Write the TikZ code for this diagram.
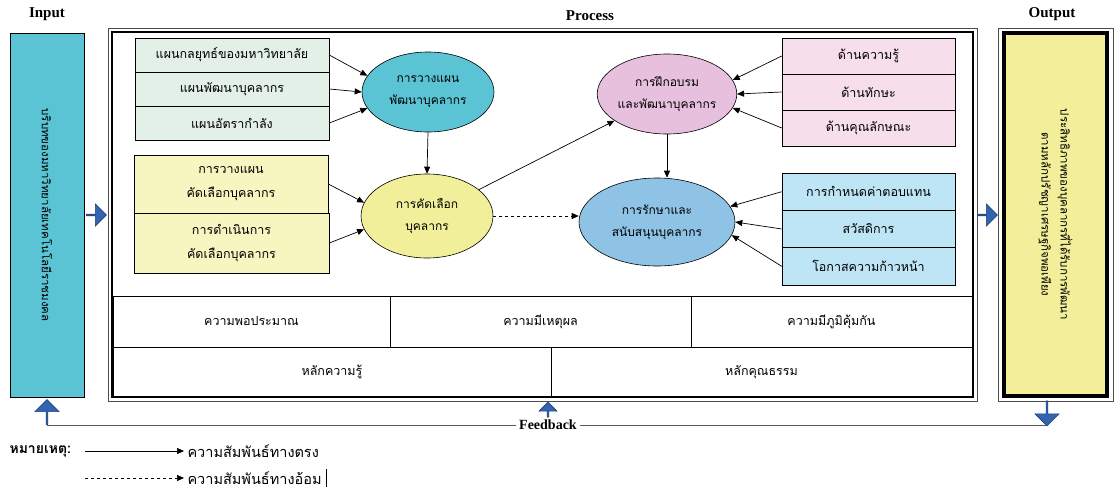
\documentclass[tikz,border=0pt]{standalone}
\usepackage{fontspec}
\setmainfont{Liberation Serif}
\newfontfamily\thai[Script=Thai]{Loma}
\usetikzlibrary{arrows.meta,shapes.geometric,shapes.arrows}
\definecolor{incyan}{HTML}{5BC4D4}
\definecolor{greenbox}{HTML}{E3F0E8}
\definecolor{yellowbox}{HTML}{F7F5C0}
\definecolor{yellowell}{HTML}{F2EF9A}
\definecolor{pinkell}{HTML}{E6C0DD}
\definecolor{pinkbox}{HTML}{F7DEEB}
\definecolor{blueell}{HTML}{8EC3E6}
\definecolor{bluebox}{HTML}{BEE5F5}
\definecolor{outyellow}{HTML}{F2EE99}
\definecolor{arrowblue}{HTML}{3463B0}
\definecolor{arrowedge}{HTML}{1F3F7A}
\begin{document}
\begin{tikzpicture}[x=1pt,y=-1pt,
  thaitext/.style={font=\thai\fontsize{12.5}{24}\selectfont},
  celltext/.style={font=\thai\fontsize{12.5}{14}\selectfont},
  elltext/.style={font=\thai\fontsize{12}{22}\selectfont},
  rottext/.style={font=\thai\fontsize{11.5}{19}\selectfont},
  legtext/.style={font=\thai\fontsize{14.5}{16}\selectfont},
  cell/.style={draw=black, line width=0.6pt, rectangle, inner sep=0pt, align=center, thaitext},
  ell/.style={ellipse, draw=black, line width=0.6pt, inner sep=0pt, align=center, elltext},
  rel/.style={-{Triangle[length=7pt,width=6pt]}, line width=0.7pt},
  blockarrow/.style={single arrow, fill=arrowblue, draw=arrowedge, line width=0.6pt, inner sep=0pt, single arrow head extend=4pt},
  lbl/.style={font=\bfseries\fontsize{15}{17}\selectfont}]
\useasboundingbox[fill=white] (0,0) rectangle (1117,490);

% titles
\node[lbl] (tin) at (47,14) {Input};
\node[lbl] (tproc) at (590,16) {Process};
\node[lbl] (tout) at (1052,14) {Output};

% input box
\node[draw=black, line width=0.6pt, fill=incyan, minimum width=74pt, minimum height=364pt, inner sep=0pt] (inbox) at (47,215) {};
\node[rottext, rotate=-90] (intext) at (inbox.center) {บริบทของมหาวิทยาลัยเทคโนโลยีราชมงคล};

% process frame
\draw[line width=0.9pt, black!70] (108,28) rectangle (977,401);
\draw[line width=1.5pt] (112,32) rectangle (973,397);

% output box
\draw[line width=0.9pt, black!70] (998,28) rectangle (1113,401);
\node[draw=black, line width=3.5pt, fill=outyellow, minimum width=103pt, minimum height=363pt, inner sep=0pt] (outbox) at (1055.5,214.5) {};
\node[rottext, rotate=-90, align=center] (outtext) at (outbox.center) {ประสิทธิภาพของบุคลากรที่ได้รับการพัฒนา\\ตามหลักปรัชญาเศรษฐกิจพอเพียง};

% block arrows
\node[blockarrow, minimum height=20pt, minimum width=22pt] (a_in) at (96,215) {};
\node[blockarrow, minimum height=20pt, minimum width=22pt] (a_out) at (987,215) {};
\node[blockarrow, shape border rotate=90, minimum height=25pt, minimum width=24pt] (a_fbL) at (47,412.5) {};
\node[blockarrow, shape border rotate=90, minimum height=15pt, minimum width=18pt, single arrow head extend=3pt] (a_fbM) at (548,410) {};
\node[blockarrow, shape border rotate=270, minimum height=25pt, minimum width=24pt] (a_fbR) at (1047,413) {};

% green boxes
\node[cell, fill=greenbox, minimum width=194pt, minimum height=34pt] (g1) at (232,55) {แผนกลยุทธ์ของมหาวิทยาลัย};
\node[cell, fill=greenbox, minimum width=194pt, minimum height=34pt] (g2) at (232,89) {แผนพัฒนาบุคลากร};
\node[cell, fill=greenbox, minimum width=194pt, minimum height=34pt] (g3) at (232,123) {แผนอัตรากำลัง};

% yellow boxes
\node[cell, fill=yellowbox, minimum width=194pt, minimum height=58pt] (y1) at (231,184) {การวางแผน\\คัดเลือกบุคลากร};
\node[cell, fill=yellowbox, minimum width=195pt, minimum height=60pt] (y2) at (231.5,243) {การดำเนินการ\\คัดเลือกบุคลากร};

% pink boxes
\node[cell, fill=pinkbox, minimum width=173pt, minimum height=36pt] (p1) at (868.5,56) {ด้านความรู้};
\node[cell, fill=pinkbox, minimum width=173pt, minimum height=36pt] (p2) at (868.5,92) {ด้านทักษะ};
\node[cell, fill=pinkbox, minimum width=173pt, minimum height=36pt] (p3) at (868.5,128) {ด้านคุณลักษณะ};

% blue boxes
\node[cell, fill=bluebox, minimum width=173pt, minimum height=37.3pt] (b1) at (868.5,191.7) {การกำหนดค่าตอบแทน};
\node[cell, fill=bluebox, minimum width=173pt, minimum height=37.3pt] (b2) at (868.5,229) {สวัสดิการ};
\node[cell, fill=bluebox, minimum width=173pt, minimum height=37.3pt] (b3) at (868.5,266.3) {โอกาสความก้าวหน้า};

% ellipses
\node[ell, fill=incyan, minimum width=132pt, minimum height=80pt] (e1) at (428,92) {การวางแผน\\พัฒนาบุคลากร};
\node[ell, fill=yellowell, minimum width=132pt, minimum height=84pt] (e2) at (427,216) {การคัดเลือก\\บุคลากร};
\node[ell, fill=pinkell, minimum width=136pt, minimum height=80pt] (e3) at (667,94) {การฝึกอบรม\\และพัฒนาบุคลากร};
\node[ell, fill=blueell, minimum width=156pt, minimum height=88pt] (e4) at (657,222) {การรักษาและ\\สนับสนุนบุคลากร};

% bottom rows
\node[cell, celltext, minimum width=277pt, minimum height=51pt] (c1) at (251.5,321.5) {ความพอประมาณ};
\node[cell, celltext, minimum width=301pt, minimum height=51pt] (c2) at (540.5,321.5) {ความมีเหตุผล};
\node[cell, celltext, minimum width=281pt, minimum height=51pt] (c3) at (831.5,321.5) {ความมีภูมิคุ้มกัน};
\node[cell, celltext, minimum width=438pt, minimum height=50pt] (c4) at (332,372) {หลักความรู้};
\node[cell, celltext, minimum width=421pt, minimum height=50pt] (c5) at (761.5,372) {หลักคุณธรรม};

% connectors
\draw[rel] (g1.east) -- (e1.165);
\draw[rel] (g2.east) -- (e1.west);
\draw[rel] (g3.east) -- (e1.195);
\draw[rel] (y1.east) -- (e2.168);
\draw[rel] (y2.east) -- (e2.192);
\draw[rel] (e1.south) -- (e2.north);
\draw[rel] (e2) -- (e3);
\draw[rel, dashed] (e2.east) -- (e2.east -| e4.west);
\draw[rel] (e3.south) -- (e3.south |- e4.north);
\draw[rel] (p1.west) -- (e3.12);
\draw[rel] (p2.west) -- (e3.east);
\draw[rel] (p3.west) -- (e3.-12);
\draw[rel] (b1.west) -- (e4.12);
\draw[rel] (b2.west) -- (e4.east);
\draw[rel] (b3.west) -- (e4.-10);

% feedback
\node[font=\bfseries\fontsize{14}{16}\selectfont] (fb) at (548,425) {Feedback};
\coordinate (fbL) at (47,425);
\coordinate (fbR) at (1047,425);
\draw[line width=1pt, black!65] (fbL) -- (fb.west);
\draw[line width=1pt, black!65] (fb.east) -- (fbR);

% legend
\node[anchor=west, font=\thai\bfseries\fontsize{14}{16}\selectfont] (lg) at (6,451) {หมายเหตุ:};
\coordinate (l1) at (85,451);
\coordinate (l2) at (85,478);
\node[legtext, anchor=west] (lt1) at (184,451) {ความสัมพันธ์ทางตรง};
\node[legtext, anchor=west] (lt2) at (184,478) {ความสัมพันธ์ทางอ้อม};
\draw[rel] (l1) -- (lt1.west);
\draw[rel, dashed] (l2) -- (lt2.west);
\draw[line width=0.8pt] (lt2.east) ++(1,-9) -- ++(0,18);
\end{tikzpicture}
\end{document}
